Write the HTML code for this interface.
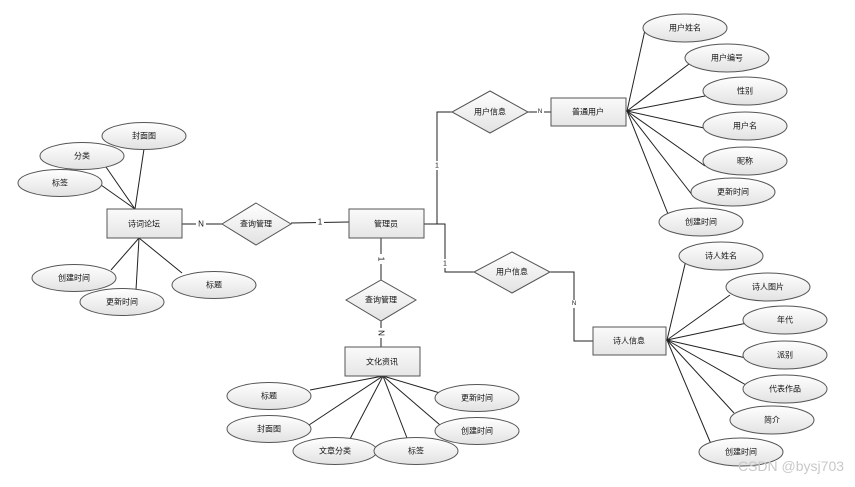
<!DOCTYPE html>
<html><head><meta charset="utf-8"><style>
body{margin:0;background:#fff}
text{font-family:"Liberation Sans","Noto Sans CJK SC",sans-serif;font-size:8px;fill:#111;text-anchor:middle;dominant-baseline:central}
.l{stroke:#222;stroke-width:1;fill:none}
</style></head><body>
<svg width="855" height="482" viewBox="0 0 855 482">
<defs>
<linearGradient id="g" x1="0" y1="0" x2="0" y2="1"><stop offset="0" stop-color="#fff"/><stop offset="1" stop-color="#e2e2e2"/></linearGradient>
<linearGradient id="r" x1="0" y1="0" x2="0" y2="1"><stop offset="0" stop-color="#fafafa"/><stop offset="1" stop-color="#e6e6e6"/></linearGradient>
</defs>
<g class="l">
<!-- poetry forum attrs -->
<line x1="135" y1="209" x2="144" y2="149"/><line x1="135" y1="209" x2="106" y2="167"/><line x1="135" y1="209" x2="101" y2="185"/>
<line x1="139" y1="238" x2="111" y2="270"/><line x1="139" y1="238" x2="136" y2="290"/><line x1="139" y1="238" x2="182" y2="273"/>
<line x1="182" y1="224" x2="222" y2="224"/><line x1="291" y1="223" x2="349" y2="222"/>
<!-- user -->
<polyline points="424,224 437,224 437,112 452,112"/><line x1="528" y1="112" x2="551" y2="112"/>
<line x1="627" y1="111" x2="645" y2="30"/><line x1="627" y1="111" x2="689" y2="64"/><line x1="627" y1="111" x2="705" y2="96"/>
<line x1="627" y1="111" x2="704" y2="128"/><line x1="627" y1="111" x2="705" y2="166"/><line x1="627" y1="111" x2="693" y2="196"/><line x1="627" y1="111" x2="668" y2="214"/>
<!-- poet -->
<polyline points="424,224 445,224 445,272 474,272"/><polyline points="550,272 574,272 574,341 593,341"/>
<line x1="667" y1="340" x2="686" y2="260"/><line x1="667" y1="340" x2="730" y2="295"/><line x1="667" y1="340" x2="747" y2="323"/>
<line x1="667" y1="340" x2="746" y2="358"/><line x1="667" y1="340" x2="746" y2="385"/><line x1="667" y1="340" x2="734" y2="413"/><line x1="667" y1="340" x2="711" y2="444"/>
<!-- culture -->
<line x1="381" y1="238" x2="381" y2="280"/><line x1="381" y1="321" x2="381" y2="347"/>
<line x1="383" y1="376" x2="310" y2="390"/><line x1="383" y1="376" x2="309" y2="425"/><line x1="383" y1="376" x2="350" y2="439"/>
<line x1="383" y1="376" x2="407" y2="438"/><line x1="383" y1="376" x2="440" y2="393"/><line x1="383" y1="376" x2="440" y2="425"/>
</g>
<g stroke="#555" fill="url(#r)" stroke-width="1">
<rect x="107" y="209" width="75" height="29"/><rect x="349" y="209" width="75" height="29"/>
<rect x="551" y="98" width="75" height="28"/><rect x="593" y="327" width="73" height="28"/><rect x="345" y="347" width="75" height="29"/>
</g>
<g stroke="#555" fill="url(#g)" stroke-width="1">
<polygon points="256,203 291,224 256,245 222,224"/><polygon points="490,91 528,112 490,133 452,112"/>
<polygon points="512,252 550,272 512,293 474,272"/><polygon points="381,280 416,300 381,321 346,300"/>
</g>
<g stroke="#555" fill="url(#g)" stroke-width="1">
<ellipse cx="144" cy="136" rx="42" ry="13.5"/><ellipse cx="82" cy="156" rx="42" ry="13.5"/><ellipse cx="60" cy="183" rx="42" ry="13.5"/>
<ellipse cx="74" cy="278" rx="42" ry="13.5"/><ellipse cx="122" cy="302" rx="42" ry="13.5"/><ellipse cx="214" cy="285" rx="42" ry="13.5"/>
<ellipse cx="685" cy="28" rx="42" ry="14"/><ellipse cx="727" cy="58" rx="42" ry="14"/><ellipse cx="745" cy="91" rx="42" ry="14"/>
<ellipse cx="745" cy="126" rx="42" ry="14"/><ellipse cx="745" cy="161" rx="42" ry="14"/><ellipse cx="733" cy="192" rx="42" ry="14"/><ellipse cx="701" cy="222" rx="42" ry="14"/>
<ellipse cx="721" cy="256" rx="42" ry="14"/><ellipse cx="768" cy="287" rx="42" ry="14"/><ellipse cx="785" cy="320" rx="42" ry="14"/>
<ellipse cx="785" cy="355" rx="42" ry="14"/><ellipse cx="785" cy="389" rx="42" ry="14"/><ellipse cx="772" cy="420" rx="42" ry="14"/><ellipse cx="741" cy="452" rx="42" ry="14"/>
<ellipse cx="269" cy="396" rx="42" ry="13.5"/><ellipse cx="269" cy="429" rx="42" ry="13.5"/><ellipse cx="335" cy="451" rx="42" ry="13.5"/>
<ellipse cx="416" cy="451" rx="42" ry="13.5"/><ellipse cx="477" cy="398" rx="42" ry="13.5"/><ellipse cx="477" cy="431" rx="42" ry="13.5"/>
</g>
<text x="144" y="224">诗词论坛</text><text x="386" y="224">管理员</text><text x="588" y="112">普通用户</text><text x="629" y="341">诗人信息</text><text x="382" y="362">文化资讯</text>
<text x="256" y="224">查询管理</text><text x="490" y="112">用户信息</text><text x="512" y="272">用户信息</text><text x="381" y="300">查询管理</text>
<text x="144" y="136">封面图</text><text x="82" y="156">分类</text><text x="60" y="183">标签</text><text x="74" y="278">创建时间</text><text x="122" y="302">更新时间</text><text x="214" y="285">标题</text>
<text x="685" y="28">用户姓名</text><text x="727" y="58">用户编号</text><text x="745" y="91">性别</text><text x="745" y="126">用户名</text><text x="745" y="161">昵称</text><text x="733" y="192">更新时间</text><text x="701" y="222">创建时间</text>
<text x="721" y="256">诗人姓名</text><text x="768" y="287">诗人图片</text><text x="785" y="320">年代</text><text x="785" y="355">派别</text><text x="785" y="389">代表作品</text><text x="772" y="420">简介</text><text x="741" y="452">创建时间</text>
<text x="269" y="396">标题</text><text x="269" y="429">封面图</text><text x="335" y="451">文章分类</text><text x="416" y="451">标签</text><text x="477" y="398">更新时间</text><text x="477" y="431">创建时间</text>
<g style="font-size:9px">
<text x="201" y="224" style="font-size:10px;fill:#fff;stroke:none"></text>
<rect x="196" y="219" width="10" height="10" fill="#fff"/><text x="201" y="224">N</text>
<rect x="316" y="217" width="8" height="10" fill="#fff"/><text x="320" y="222">1</text>
<rect x="377" y="254" width="8" height="10" fill="#fff"/><text x="381" y="259" transform="rotate(90 381 259)">1</text>
<rect x="376" y="328" width="10" height="10" fill="#fff"/><text x="381" y="333" transform="rotate(90 381 333)">N</text>
<rect x="434" y="161" width="6" height="9" fill="#fff"/><text x="437" y="166" style="font-size:7px">1</text>
<rect x="442" y="259" width="6" height="9" fill="#fff"/><text x="445" y="264" style="font-size:7px">1</text>
<rect x="537" y="108" width="7" height="8" fill="#fff"/><text x="540" y="112" style="font-size:6px">N</text>
<rect x="571" y="300" width="7" height="8" fill="#fff"/><text x="574" y="304" style="font-size:6px">N</text>
</g>
<text x="791" y="466" style="font-size:14px;fill:#c8c8c8">CSDN @bysj703</text>
</svg>
</body></html>
